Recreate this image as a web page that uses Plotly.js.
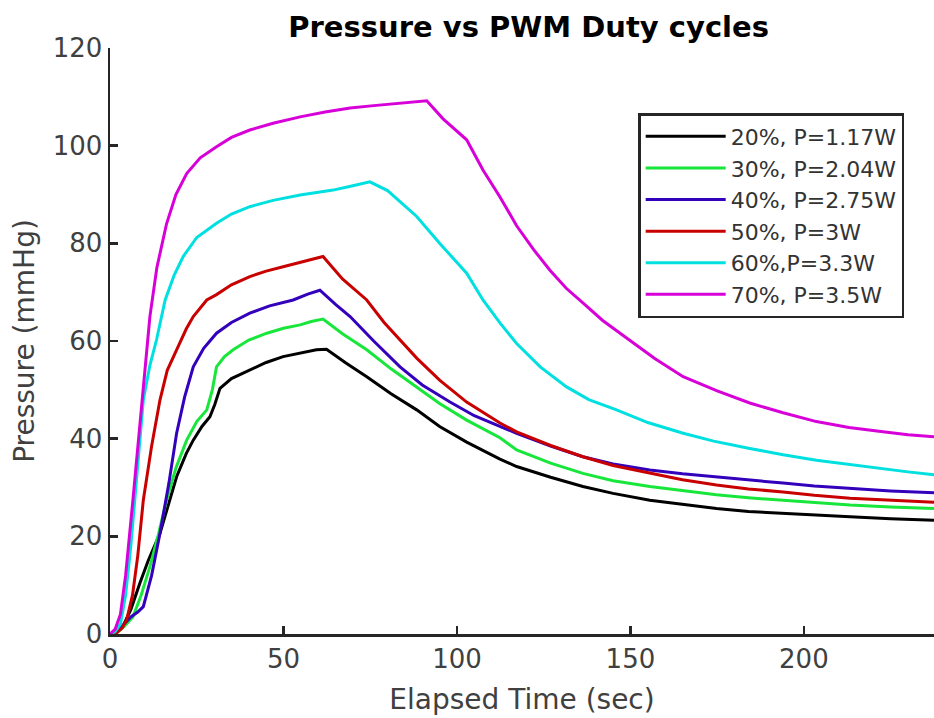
<!DOCTYPE html>
<html>
<head>
<meta charset="utf-8">
<script src="https://cdn.plot.ly/plotly-3.0.1.min.js"></script>
<style>html,body{margin:0;padding:0;background:#fff;}#chart{width:934px;height:718px;}</style>
</head>
<body>
<div id="chart"></div>
<script>
// ---- Data ----
const seriesNames = ["20%, P=1.17W", "30%, P=2.04W", "40%, P=2.75W", "50%, P=3W", "60%,P=3.3W", "70%, P=3.5W"];

const x20 = [0, 2, 4, 6, 8.6, 11, 14.4, 17, 19.2, 22, 24, 26.5, 28.8, 30.2, 31.7, 35, 40.3, 45, 49.9, 55, 59.5, 62.4, 68, 74, 81, 88.4, 95, 102.8, 112.4, 117.2, 127, 136.3, 145, 155.6, 165, 174.8, 184, 194, 203, 213.3, 225, 237.5];
const y20 = [0, 0.5, 2, 5, 10.4, 15, 20.6, 27, 32.2, 37, 39.7, 42.5, 44.5, 47, 50.3, 52.3, 54.1, 55.6, 56.8, 57.6, 58.2, 58.3, 55.5, 52.7, 49.2, 45.9, 42.5, 39.3, 35.8, 34.3, 32.1, 30.2, 28.8, 27.4, 26.5, 25.7, 25.1, 24.7, 24.3, 24.0, 23.6, 23.3];

const x30 = [0, 2, 4, 6.6, 9, 11.5, 14, 16.3, 19, 22.1, 25, 27.9, 29.5, 30.7, 33, 35.5, 40, 45.2, 50, 54.8, 58, 61.4, 67, 74, 81, 88.4, 95, 102.8, 112.4, 117.2, 127, 136.3, 145, 155.6, 165, 174.8, 184, 194, 203, 213.3, 225, 237.5];
const y30 = [0, 0.3, 1.5, 3.5, 8, 13.8, 20.5, 27.4, 34, 39.7, 43.5, 45.9, 50, 54.7, 56.8, 58.2, 60.2, 61.6, 62.6, 63.3, 64, 64.5, 61.5, 58.2, 54.3, 50.6, 47.2, 43.8, 40.2, 37.7, 35.0, 32.9, 31.4, 30.2, 29.3, 28.5, 27.9, 27.4, 26.9, 26.4, 26.0, 25.7];

const x40 = [0, 2, 4, 6, 8, 9.6, 12, 14.4, 17, 19.2, 21.5, 24, 27, 30.7, 35, 40.3, 46, 52.8, 57, 60.5, 65, 69.2, 76, 83.6, 90, 98, 105, 112.4, 117.2, 127, 136.3, 145, 155.6, 165, 174.8, 184, 194, 203, 213.3, 225, 237.5];
const y40 = [0, 0.5, 2, 3.5, 4.5, 5.6, 12, 20.6, 31, 41.1, 48.5, 54.7, 58.5, 61.6, 63.8, 65.7, 67.2, 68.4, 69.6, 70.4, 67.5, 65, 60, 54.7, 51, 47.5, 44.7, 42.5, 41.1, 38.5, 36.3, 34.8, 33.6, 32.8, 32.2, 31.5, 30.9, 30.3, 29.8, 29.3, 28.9];

const x50 = [0, 2, 3.5, 4.8, 6.5, 8, 9.6, 12, 14.4, 16.5, 19.2, 22, 24, 27.9, 30.7, 35, 40.3, 45, 49.9, 55, 61.4, 67, 74, 79, 83.6, 88.4, 95, 102.8, 112.4, 117.2, 127, 136.3, 145, 155.6, 165, 174.8, 184, 194, 203, 213.3, 225, 237.5];
const y50 = [0, 0.3, 1.2, 2.9, 8, 16, 27.4, 38.5, 47.9, 54, 58.2, 62.5, 65, 68.4, 69.5, 71.5, 73.2, 74.3, 75.2, 76.2, 77.3, 72.7, 68.4, 63.8, 60.2, 56.5, 52, 47.5, 43.2, 41.4, 38.6, 36.3, 34.5, 32.9, 31.6, 30.5, 29.7, 29.1, 28.4, 27.8, 27.4, 27.0];

const x60 = [0, 1.5, 3, 4.5, 6, 7.5, 9.6, 11.5, 13.4, 15.9, 18.5, 21.1, 25, 30.7, 35, 40.3, 47, 54.8, 60, 64.3, 70, 74.9, 80, 88.4, 95, 102.8, 107.5, 112.4, 117.2, 124, 131.6, 138, 146, 155, 165.2, 174, 184.4, 194, 203.6, 213, 222.8, 230, 237.5];
const y60 = [0, 0.5, 2, 8, 18, 30, 47.9, 55, 60.2, 68.4, 73.5, 77.3, 81.2, 84.1, 86, 87.5, 88.8, 89.9, 90.5, 90.9, 91.8, 92.6, 90.8, 85.5, 80, 73.9, 68.4, 63.7, 59.5, 54.7, 50.6, 48, 45.9, 43.3, 41.1, 39.5, 38, 36.7, 35.6, 34.7, 33.9, 33.2, 32.6];

const x70 = [0, 1.5, 3, 4.5, 6.6, 8.5, 10, 11.5, 13.5, 16.3, 19, 22.1, 26, 30.7, 35, 40.3, 47, 54.8, 62, 69.2, 76, 83.6, 91.3, 96, 102.8, 107.5, 112.4, 117.2, 122, 126.8, 131.5, 136.3, 142, 148.9, 157, 165.2, 175, 184.4, 194, 203.6, 213, 222.8, 230, 237.5];
const y70 = [0, 1, 4, 12, 27.4, 42, 55, 65, 75, 84, 90, 94.3, 97.5, 99.8, 101.7, 103.2, 104.6, 105.9, 106.9, 107.7, 108.2, 108.7, 109.2, 105.5, 101.2, 95, 89.5, 83.6, 78.8, 74.5, 70.8, 67.8, 64.2, 60.6, 56.4, 52.7, 49.8, 47.3, 45.3, 43.5, 42.3, 41.4, 40.8, 40.4];

const xs = [x20, x30, x40, x50, x60, x70];
const ys = [y20, y30, y40, y50, y60, y70];
const colors = ["#000000", "#18e63a", "#3300bb", "#c80000", "#00e0e0", "#d800d8"];

const FONT = "DejaVu Sans, sans-serif";
const traces = xs.map((x, i) => ({
  type: "scatter", mode: "lines", name: seriesNames[i],
  x: x, y: ys[i],
  line: {color: colors[i], width: 3}
}));

const axisCommon = {
  showline: true, linewidth: 2.5, linecolor: "#262626",
  ticks: "inside", ticklen: 8, tickwidth: 2.5, tickcolor: "#262626",
  showgrid: false, zeroline: false, mirror: false,
  tickfont: {family: FONT, size: 26, color: "#404040"}
};

const layout = {
  width: 934, height: 718,
  margin: {l: 110, r: 0, t: 48, b: 84},
  paper_bgcolor: "#ffffff", plot_bgcolor: "#ffffff",
  font: {family: FONT},
  title: {text: "<b>Pressure vs PWM Duty cycles</b>", font: {family: FONT, size: 29, color: "#000"},
          x: 0.566, xref: "container", xanchor: "center", y: 0.962, yref: "container", yanchor: "middle"},
  xaxis: Object.assign({}, axisCommon, {
    range: [0, 237.5], tickmode: "linear", tick0: 0, dtick: 50,
    title: {text: "Elapsed Time (sec)", font: {family: FONT, size: 28, color: "#404040"}, standoff: 17}
  }),
  yaxis: Object.assign({}, axisCommon, {
    range: [0, 120], tickmode: "linear", tick0: 0, dtick: 20,
    title: {text: "Pressure (mmHg)", font: {family: FONT, size: 28, color: "#404040"}, standoff: 10}
  }),
  showlegend: true,
  legend: {
    x: 0.641, y: 0.889, xanchor: "left", yanchor: "top",
    bgcolor: "#ffffff", bordercolor: "#262626", borderwidth: 2.5,
    font: {family: FONT, size: 22, color: "#333333"},
    itemwidth: 80,
    entrywidth: 275, entrywidthmode: "pixels"
  }
};

Plotly.newPlot("chart", traces, layout, {displayModeBar: false, staticPlot: true});
</script>
</body>
</html>
